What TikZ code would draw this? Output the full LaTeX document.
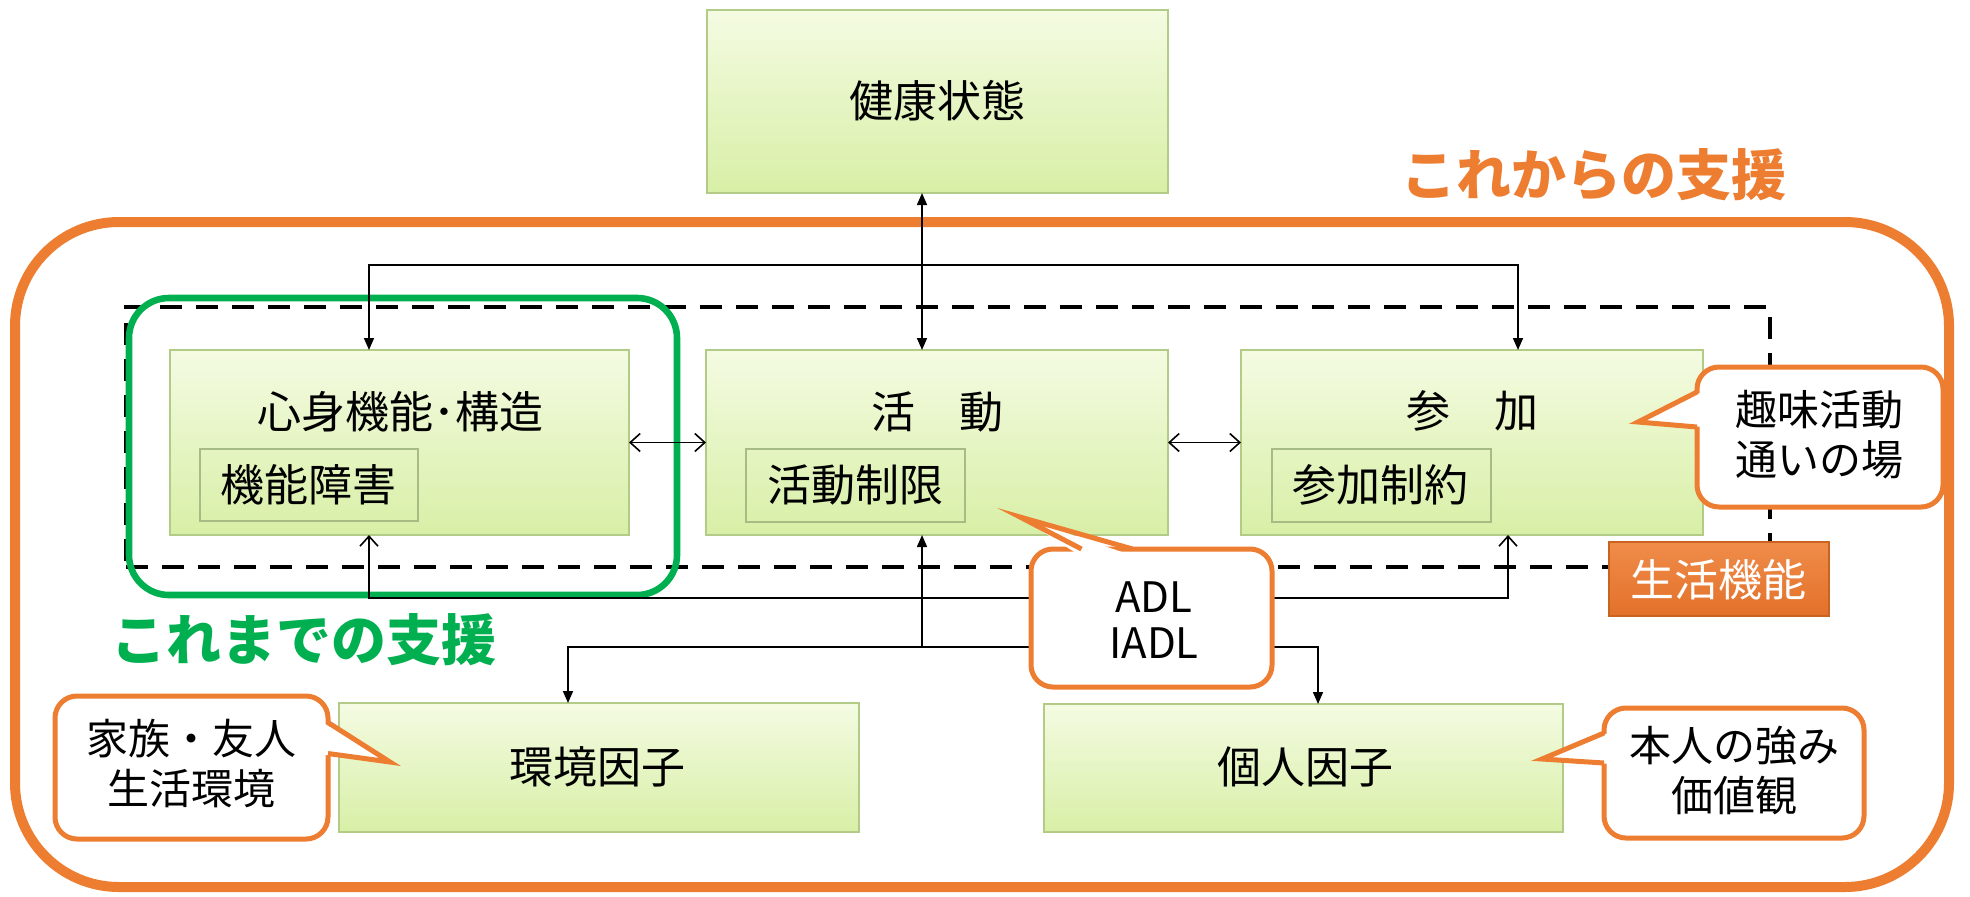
\documentclass[tikz,border=0pt]{standalone}
\usepackage{fontspec}
\setmainfont{Noto Sans CJK JP}
\usetikzlibrary{arrows.meta,fit,calc}
\definecolor{orangeA}{HTML}{ED7D31}
\definecolor{greenA}{HTML}{00B050}
\definecolor{boxtop}{HTML}{F4FBE2}
\definecolor{boxbot}{HTML}{D8EFA6}
\definecolor{boxline}{HTML}{B2CB86}
\definecolor{innerline}{HTML}{A6BC84}
\definecolor{orgtop}{HTML}{F08C4A}
\definecolor{orgbot}{HTML}{E2712A}
\definecolor{orgline}{HTML}{C8641F}
\tikzset{
  gbox/.style={draw=boxline, line width=0.8pt, top color=boxtop, bottom color=boxbot, inner sep=0pt, outer sep=0pt},
  ibox/.style={draw=innerline, line width=0.6pt, inner sep=0pt, outer sep=0pt},
  lbl/.style={font=\fontsize{22}{26}\selectfont, text=black, inner sep=0pt},
  headline/.style={font=\fontsize{27.5}{30}\selectfont\bfseries, inner sep=0pt},
  callbox/.style={draw=orangeA, line width=2.5pt, fill=white, rounded corners=11pt, inner sep=0pt, outer sep=0pt, align=center, font=\fontsize{21}{24}\selectfont},
  tailline/.style={draw=orangeA, line width=2.5pt, line join=miter},
  conn/.style={draw=black, line width=0.8pt},
  ff/.style={conn, arrows={Triangle[length=6pt,width=5pt]-Triangle[length=6pt,width=5pt]}},
  fs/.style={conn, arrows={Triangle[length=6pt,width=5pt]-}},
  oo/.style={conn, arrows={Straight Barb[length=5pt,width=9pt]-Straight Barb[length=5pt,width=9pt]}},
  bigframe/.style={draw=orangeA, line width=5pt, rounded corners=52pt, inner sep=0pt},
  greenframe/.style={draw=greenA, line width=3.3pt, rounded corners=20pt, inner sep=0pt},
  dashbox/.style={draw=black, line width=2pt, dash pattern=on 11pt off 7pt, inner sep=0pt}
}
\begin{document}
\begin{tikzpicture}[x=0.5pt,y=-0.5pt]
\useasboundingbox (0,0) rectangle (1970,896);
\fill[white] (0,0) rectangle (1970,896);

% frames
\node[bigframe, fit={(15,222)(1949,887)}] (frame) {};
\node[dashbox, fit={(126,307)(1770,567)}] (lifefunc) {};

% boxes
\node[gbox, fit={(707,10)(1168,193)}] (health) {};
\node[lbl] (healthT) at (937,101) {健康状態};

\node[gbox, fit={(170,350)(629,535)}] (shin) {};
\node[lbl] (shinT) at (400,412) {心身機能･構造};
\node[ibox, fit={(200,449)(418,521)}] (shinI) {};
\node[lbl] (shinIT) at (308,485) {機能障害};

\node[gbox, fit={(706,350)(1168,535)}] (katsu) {};
\node[lbl] (katsuT) at (937,412) {活　動};
\node[ibox, fit={(746,449)(965,522)}] (katsuI) {};
\node[lbl] (katsuIT) at (855,485) {活動制限};

\node[gbox, fit={(1241,350)(1703,535)}] (san) {};
\node[lbl] (sanT) at (1472,411) {参　加};
\node[ibox, fit={(1272,449)(1491,522)}] (sanI) {};
\node[lbl] (sanIT) at (1380,485) {参加制約};

\node[gbox, fit={(339,703)(859,832)}] (kankyo) {};
\node[lbl] (kankyoT) at (597,767) {環境因子};
\node[gbox, fit={(1044,704)(1563,832)}] (kojin) {};
\node[lbl] (kojinT) at (1305,767) {個人因子};

\node[draw=orgline, line width=0.8pt, top color=orgtop, bottom color=orgbot, inner sep=0pt, fit={(1609,542)(1829,616)}] (seikatsu) {};
\node[lbl, text=white] (seikatsuT) at (1718,580) {生活機能};

% green frame
\node[greenframe, fit={(129,298)(677,595)}] (green) {};

% headlines
\node[headline, text=orangeA] (korekara) at (1594,175) {これからの支援};
\node[headline, text=greenA] (koremade) at (304,640) {これまでの支援};

% connectors
\coordinate (xh) at (922,0);
\coordinate (topR) at (1518,265);
\coordinate (xL) at (369,0);
\coordinate (botR) at (1508,598);
\coordinate (midY) at (922,647);
\coordinate (kR) at (1318,647);
\coordinate (kL) at (568,0);

\draw[ff] (health.south -| xh) -- (katsu.north -| xh);
\draw[ff] (shin.north -| xL) |- (topR) -- (san.north -| topR);
\draw[oo] (shin.east) -- (katsu.west);
\draw[oo] (katsu.east) -- (san.west);
\draw[oo] (shin.south -| xL) |- (botR) -- (san.south -| botR);
\draw[fs] (katsu.south -| xh) -- (midY);
\draw[ff] (kankyo.north -| kL) |- (kR) -- (kojin.north -| kR);

% callouts
\node[callbox, fit={(1697,367)(1943,507)}] (hobby) {};
\node[lbl, font=\fontsize{21}{25}\selectfont, align=center] (hobbyT) at (1819,435) {趣味活動\\通いの場};
\coordinate (hobbyTip) at (1638,422);
\fill[white] ($(hobby.west)+(7,-46)$) -- (hobbyTip) -- ($(hobby.west)+(7,-10)$) -- cycle;
\draw[tailline] ($(hobby.west)+(0,-45)$) -- (hobbyTip) -- ($(hobby.west)+(0,-10)$);

\node[callbox, fit={(1031,549)(1272,687)}] (adl) {};
\node[lbl, font=\fontsize{21}{23}\selectfont, align=center] (adlT) at (1154,620) {ADL\\IADL};
\coordinate (adlTip) at (1020,517);
\fill[white] ($(adl.north)+(-71,7)$) -- (adlTip) -- ($(adl.north)+(-18,7)$) -- cycle;
\draw[tailline] ($(adl.north)+(-70,0)$) -- (adlTip) -- ($(adl.north)+(-19,0)$);

\node[callbox, fit={(55,696)(328,839)}] (family) {};
\node[lbl, font=\fontsize{21}{25}\selectfont, align=center] (familyT) at (191,763) {家族・友人\\生活環境};
\coordinate (familyTip) at (390,762);
\fill[white] ($(family.east)+(-7,-46)$) -- (familyTip) -- ($(family.east)+(-7,-13)$) -- cycle;
\draw[tailline] ($(family.east)+(0,-45)$) -- (familyTip) -- ($(family.east)+(0,-14)$);

\node[callbox, fit={(1604,708)(1864,838)}] (honnin) {};
\node[lbl, font=\fontsize{21}{25}\selectfont, align=center] (honninT) at (1734,770) {本人の強み\\価値観};
\coordinate (honninTip) at (1542,759);
\fill[white] ($(honnin.west)+(7,-41)$) -- (honninTip) -- ($(honnin.west)+(7,-9)$) -- cycle;
\draw[tailline] ($(honnin.west)+(0,-40)$) -- (honninTip) -- ($(honnin.west)+(0,-10)$);
\end{tikzpicture}
\end{document}
